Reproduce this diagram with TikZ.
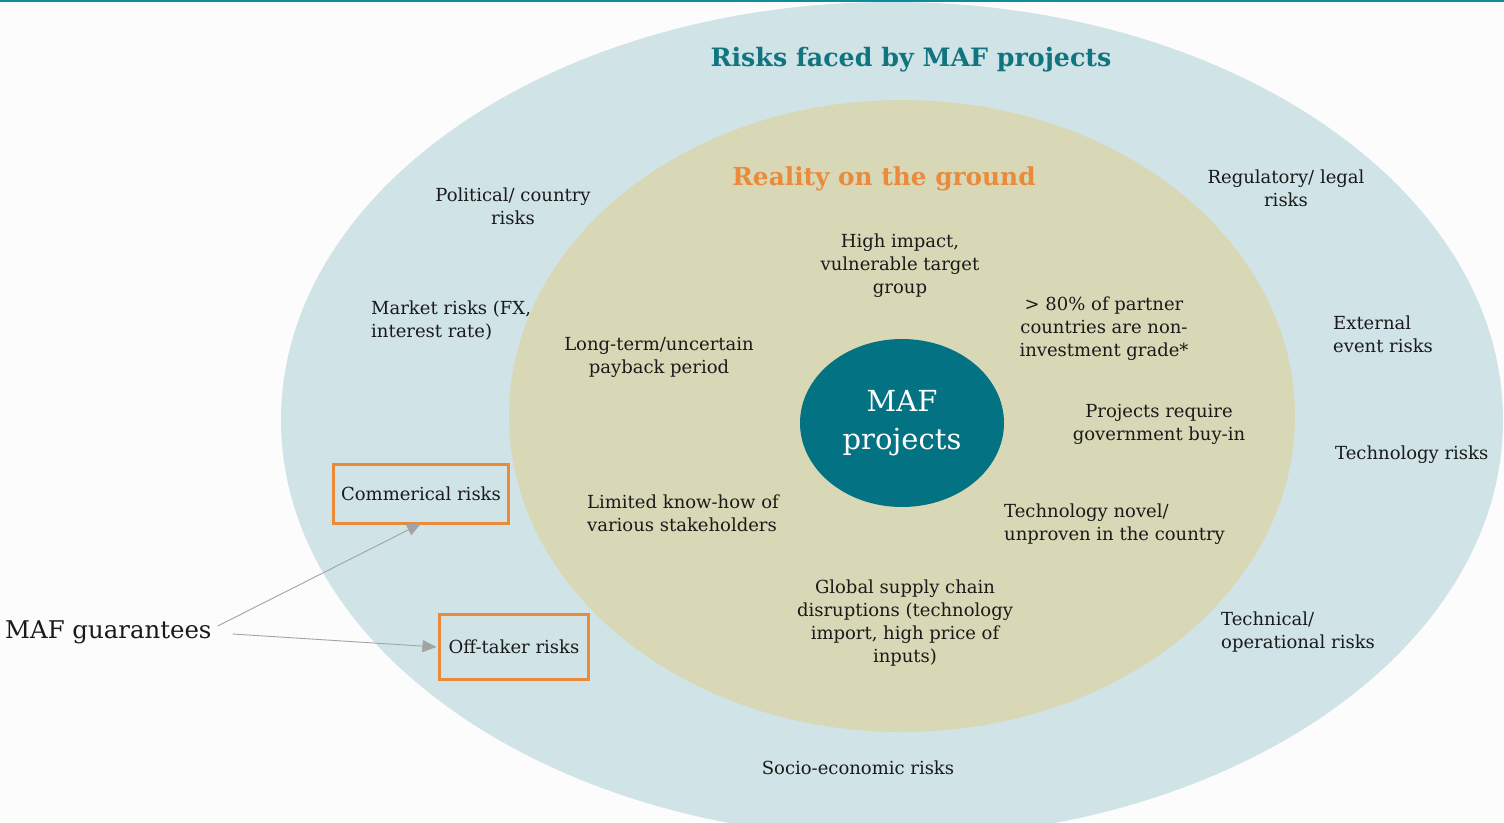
\documentclass[tikz,border=0pt]{standalone}
\usepackage{fontspec}
\setmainfont{DejaVu Serif}
\usetikzlibrary{arrows.meta,shapes.geometric}
\definecolor{bgc}{HTML}{FCFCFC}
\definecolor{topline}{HTML}{0E8C9C}
\definecolor{outerc}{HTML}{D0E3E7}
\definecolor{innerc}{HTML}{D8D8B7}
\definecolor{tealc}{HTML}{037282}
\definecolor{titlec}{HTML}{117580}
\definecolor{orangec}{HTML}{E98B3A}
\definecolor{txt}{HTML}{1A1A1A}
\definecolor{arrc}{HTML}{A3A3A3}
\begin{document}
\begin{tikzpicture}[x=1pt,y=-1pt,
  lbl/.style={font=\fontsize{18}{23}\selectfont, inner sep=0pt, align=center, text=txt},
  lblL/.style={lbl, align=left},
  riskbox/.style={draw=orangec, line width=3pt, inner sep=0pt, font=\fontsize{18}{23}\selectfont, text=txt},
  arr/.style={draw=arrc, line width=0.9pt, -{Triangle[length=14pt,width=12pt]}}]
\useasboundingbox (0,0) rectangle (1504,822);
\fill[bgc] (0,0) rectangle (1504,822);
\begin{scope}
\clip (0,0) rectangle (1504,822);
\fill[outerc] (892,420) ellipse [x radius=611, y radius=418];
\fill[innerc] (902,416) ellipse [x radius=393, y radius=316];
\end{scope}
\draw[topline, line width=2pt] (0,1) -- (1504,1);

\node[ellipse, fill=tealc, minimum width=204, minimum height=168, inner sep=0pt,
      text=white, align=center, font=\fontsize{29}{38}\selectfont] (maf) at (902,423) {MAF\\projects};

\node[font=\bfseries\fontsize{25.3}{28}\selectfont, text=titlec, inner sep=0pt] (t1) at (911,60) {Risks faced by MAF projects};
\node[font=\bfseries\fontsize{24.8}{28}\selectfont, text=orangec, inner sep=0pt] (t2) at (884,179) {Reality on the ground};

\node[lbl] (pol) at (513,206) {Political/ country\\risks};
\node[lblL, anchor=west] (mkt) at (371,321) {Market risks (FX,\\interest rate)};
\node[riskbox, minimum width=175, minimum height=59] (com) at (421,494) {Commerical risks};
\node[riskbox, minimum width=149, minimum height=65] (off) at (514,647) {Off-taker risks};
\node[font=\fontsize{24.4}{28}\selectfont, inner sep=0pt, anchor=west, text=txt] (g) at (5,632) {MAF guarantees};

\node[lbl] (long) at (659,357) {Long-term/uncertain\\payback period};
\node[lblL, anchor=west] (lim) at (587,513) {Limited know-how of\\various stakeholders};
\node[lbl] (high) at (900,266) {High impact,\\vulnerable target\\group};
\node[lbl] (p80) at (1104,329) {> 80\% of partner\\countries are non-\\investment grade*};
\node[lbl] (gov) at (1159,424) {Projects require\\government buy-in};
\node[lblL, anchor=west] (tnov) at (1004,524) {Technology novel/\\unproven in the country};
\node[lbl] (glob) at (905,623) {Global supply chain\\disruptions (technology\\import, high price of\\inputs)};

\node[lbl] (reg) at (1286,188) {Regulatory/ legal\\risks};
\node[lblL, anchor=west] (ext) at (1333,334) {External\\event risks};
\node[lblL, anchor=west] (tech) at (1335,455) {Technology risks};
\node[lblL, anchor=west] (top) at (1221,632) {Technical/\\operational risks};
\node[lbl] (soc) at (858,768) {Socio-economic risks};

\draw[arr] ([shift={(6,-6)}]g.east) -- ([yshift=1.5]com.south);
\draw[arr] ([shift={(21,2)}]g.east) -- ([xshift=-1.5]off.west);
\end{tikzpicture}
\end{document}
